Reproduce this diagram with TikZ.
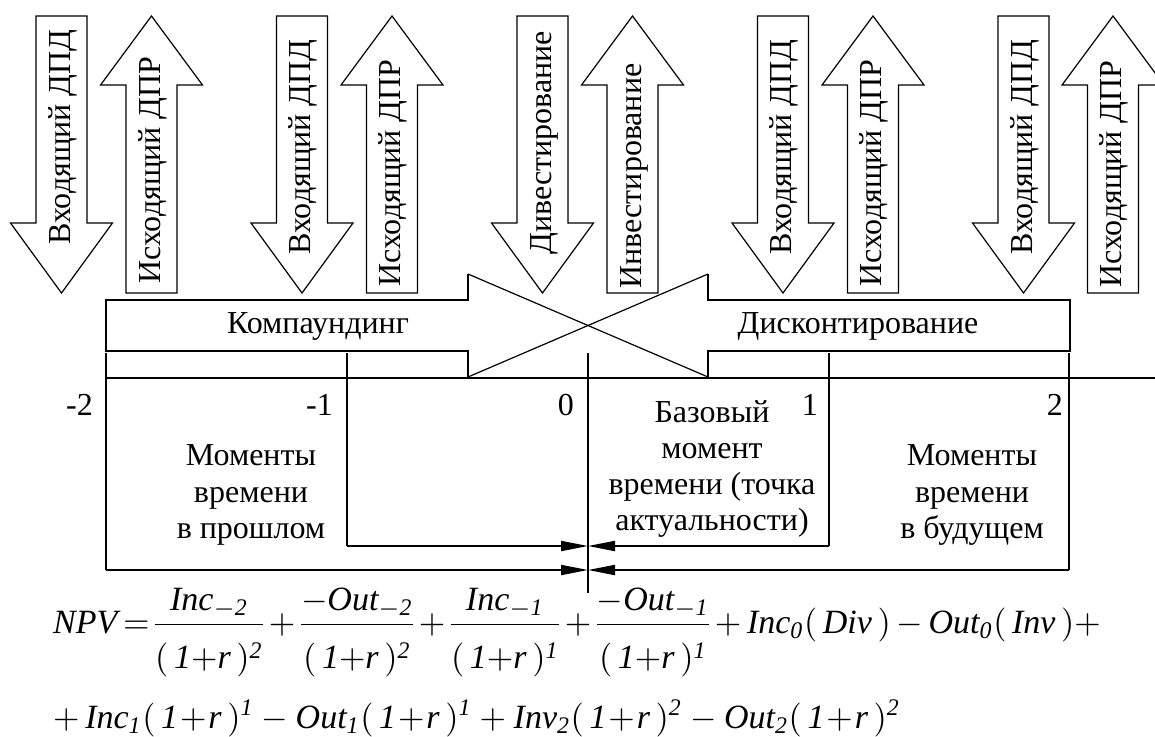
\documentclass[tikz,border=0pt]{standalone}
\usepackage{amsmath}
\usepackage{graphicx}
\usepackage{fontspec}
\setmainfont{Liberation Serif}
\usetikzlibrary{arrows.meta}
\newcommand\itx[1]{\textit{#1}}
\newcommand\opr{(\,\itx{1}\!+\!\itx{r}\,)}
\newcommand\dnm[1]{\rule{0pt}{11.5pt}\opr^{\itx{#1}}}
\begin{document}
\begin{tikzpicture}[x=1pt,y=-1pt,line join=miter,
  outl/.style={draw,line width=1.2pt,fill=white},
  lbl/.style={font=\fontsize{32}{37}\selectfont,inner sep=0pt,anchor=base},
  rlbl/.style={lbl,rotate=90},
  tl/.style={line width=1.5pt},
  vl/.style={line width=1.3pt},
  hl/.style={line width=2pt,-{Triangle[length=27pt,width=10pt]}},
  eq/.style={inner sep=0pt,anchor=base west}]
\useasboundingbox (0,0) rectangle (1155,736);
\clip (0,0) rectangle (1155,736);
% down arrows (incoming / divestment)
\foreach \c in {61.5,302,542.5,783,1023.5}{
  \draw[outl] (\c-25.5,16) -- (\c+25.5,16) -- (\c+25.5,223) -- (\c+51,223) -- (\c,293) -- (\c-51,223) -- (\c-25.5,223) -- cycle;}
% up arrows (outgoing / investment)
\foreach \c in {151.5,392,632.5,873,1113}{
  \draw[outl] (\c,16) -- (\c+51,85) -- (\c+25.5,85) -- (\c+25.5,293) -- (\c-25.5,293) -- (\c-25.5,85) -- (\c-51,85) -- cycle;}
\node[rlbl] (in1) at (70,137) {Входящий ДПД};
\node[rlbl] (out1) at (160,170) {Исходящий ДПР};
\node[rlbl] (in2) at (310.5,147) {Входящий ДПД};
\node[rlbl] (out2) at (400.5,173) {Исходящий ДПР};
\node[rlbl] (div) at (551,143) {Дивестирование};
\node[rlbl] (inv) at (641,176) {Инвестирование};
\node[rlbl] (in3) at (791.5,147) {Входящий ДПД};
\node[rlbl] (out3) at (881.5,173) {Исходящий ДПР};
\node[rlbl] (in4) at (1032,147) {Входящий ДПД};
\node[rlbl] (out4) at (1121.5,174) {Исходящий ДПР};
% compounding / discounting arrows
\draw[line width=1.2pt] (468,274) -- (708,377);
\draw[line width=1.2pt] (468,377) -- (708,274);
\draw[line width=1.2pt] (468,274) -- (468,300) -- (106,300) -- (106,351) -- (468,351) -- (468,377);
\draw[line width=1.2pt] (708,274) -- (708,300) -- (1070,300) -- (1070,351) -- (708,351) -- (708,377);
\node[lbl] (comp) at (318,333) {Компаундинг};
\node[lbl] (disc) at (858,333) {Дисконтирование};
% time line
\draw[tl] (106,378) -- (1155,378);
\coordinate (tm2) at (106,353);
\coordinate (tm1) at (347,353);
\coordinate (t0) at (588,353);
\coordinate (t1) at (829,353);
\coordinate (t2) at (1069,353);
\draw[vl] (t0) -- (588,593);
\draw[vl] (tm2) -- (106,570);
\draw[vl] (tm1) -- (347,546);
\draw[vl] (t1) -- (829,546);
\draw[vl] (t2) -- (1069,570);
\coordinate (am2) at (106,570);
\coordinate (am1) at (347,546);
\coordinate (ap1) at (829,546);
\coordinate (ap2) at (1069,570);
\coordinate (hu) at (588,546);
\coordinate (hd) at (588,570);
\draw[hl] (am1) -- (hu);
\draw[hl] (am2) -- (hd);
\draw[hl] (ap1) -- (hu);
\draw[hl] (ap2) -- (hd);
% labels
\node[lbl,anchor=base east] (lm2) at (93,415) {-2};
\node[lbl,anchor=base east] (lm1) at (333,415) {-1};
\node[lbl,anchor=base east] (l0) at (574,415) {0};
\node[lbl,anchor=base east] (l1) at (818,415) {1};
\node[lbl,anchor=base east] (l2) at (1063,415) {2};
\node[lbl] (p1) at (251,465) {Моменты};
\node[lbl] (p2) at (251,502) {времени};
\node[lbl] (p3) at (251,538) {в прошлом};
\node[lbl] (b1) at (712,422) {Базовый};
\node[lbl] (b2) at (712,458) {момент};
\node[lbl] (b3) at (712,494) {времени (точка};
\node[lbl] (b4) at (712,530) {актуальности)};
\node[lbl] (f1) at (972,465) {Моменты};
\node[lbl] (f2) at (972,502) {времени};
\node[lbl] (f3) at (972,538) {в будущем};
% formula
\node[eq] (eq1) at (53,633) {\scalebox{3.4}{\medmuskip=3mu\thickmuskip=3mu\nulldelimiterspace=0pt$\itx{NPV}=\dfrac{\itx{Inc}_{-\itx{2}}}{\dnm{2}}+\dfrac{-\itx{Out}_{-\itx{2}}}{\dnm{2}}+\dfrac{\itx{Inc}_{-\itx{1}}}{\dnm{1}}+\dfrac{-\itx{Out}_{-\itx{1}}}{\dnm{1}}+\itx{Inc}_{\itx{0}}(\,\itx{Div}\,)-\itx{Out}_{\itx{0}}(\,\itx{Inv}\,)+$}};
\node[eq] (eq2) at (53,728) {\scalebox{3.4}{\medmuskip=4mu$+\,\itx{Inc}_{\itx{1}}\opr^{\itx{1}}-\itx{Out}_{\itx{1}}\opr^{\itx{1}}+\itx{Inv}_{\itx{2}}\opr^{\itx{2}}-\itx{Out}_{\itx{2}}\opr^{\itx{2}}$}};
\end{tikzpicture}
\end{document}
